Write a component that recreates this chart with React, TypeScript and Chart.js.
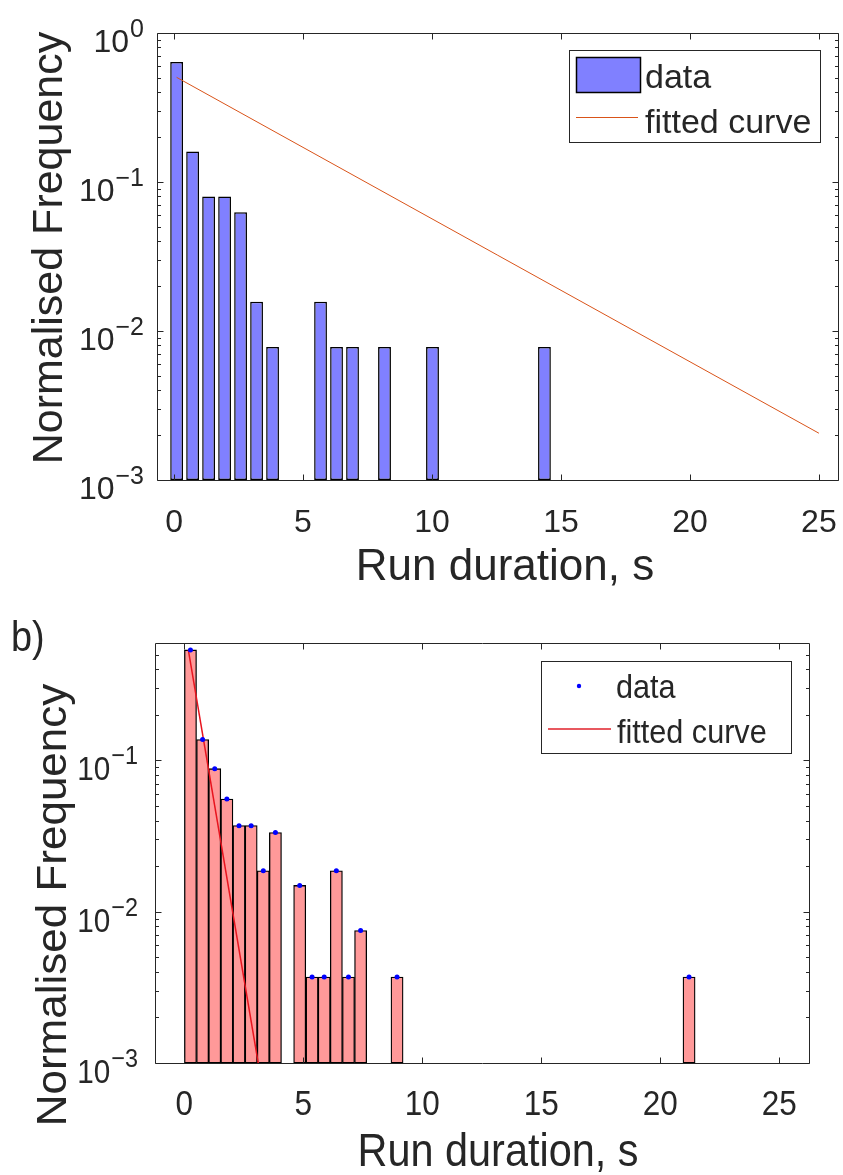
import React, { useEffect, useRef } from "react";
import { Chart, registerables } from "chart.js";

Chart.register(...registerables);

// ---------------- data: panel a (top) ----------------
const aBinCenters = [0.1, 0.72, 1.34, 1.96, 2.58, 3.2, 3.82, 5.68, 6.3, 6.92, 8.16, 10.02, 14.36];
const aFrequencies = [0.638, 0.16, 0.08, 0.08, 0.0626, 0.0157, 0.0078, 0.0157, 0.0078, 0.0078, 0.0078, 0.0078, 0.0078];
const aFitX = [0.1, 25];
const aFitY = [0.504, 0.00206];

// ---------------- data: panel b (bottom) ----------------
const bBinCenters = [0.26, 0.77, 1.28, 1.79, 2.3, 2.81, 3.32, 3.83, 4.85, 5.37, 5.88, 6.39, 6.9, 7.41, 8.94, 21.21];
const bFrequencies = [0.536, 0.137, 0.088, 0.0555, 0.037, 0.037, 0.0186, 0.0333, 0.0149, 0.0037, 0.0037, 0.0186, 0.0037, 0.0075, 0.0037, 0.0037];
const bFitX = [0.17, 3.2];
const bFitY = [0.536, 0.00082];

// ---------------- axis ticks & texts ----------------
const xTickValues = [0, 5, 10, 15, 20, 25];
const xTickLabels = ["0", "5", "10", "15", "20", "25"];
const yTickValues = [1, 0.1, 0.01, 0.001];
const yTickBase = "10";
const yTickExponents = ["0", "\u22121", "\u22122", "\u22123"];
const xAxisTitle = "Run duration, s";
const yAxisTitle = "Normalised Frequency";
const legendLabels = ["data", "fitted curve"];
const panelLabelB = "b)";

const FONT = '"Liberation Sans", Arial, Helvetica, sans-serif';
const AXIS = "#262626";

function drawText(ctx: CanvasRenderingContext2D, text: string, x: number, y: number, size: number, align: CanvasTextAlign, sx = 1) {
  ctx.save();
  ctx.translate(x, y);
  ctx.scale(sx, 1);
  ctx.font = `${size}px ${FONT}`;
  ctx.textAlign = align;
  ctx.textBaseline = "alphabetic";
  ctx.fillStyle = AXIS;
  ctx.fillText(text, 0, 0);
  ctx.restore();
}

function makeAxesPlugin(cfg: any) {
  return {
    id: "matlabAxes",
    afterDraw(chart: any) {
      const { ctx, chartArea: a, scales } = chart;
      const xs = scales.x;
      const ys = scales.y;
      ctx.save();
      ctx.strokeStyle = AXIS;
      ctx.lineWidth = 1;
      const L = Math.round(a.left) + 0.5;
      const R = Math.round(a.right) + 0.5;
      const T = Math.round(a.top) + 0.5;
      const B = Math.round(a.bottom) + 0.5;
      ctx.beginPath();
      ctx.rect(L, T, R - L, B - T);
      for (const v of xTickValues) {
        const px = Math.round(xs.getPixelForValue(v)) + 0.5;
        ctx.moveTo(px, B); ctx.lineTo(px, B - 6);
        ctx.moveTo(px, T); ctx.lineTo(px, T + 6);
      }
      for (let d = -3; d <= 0; d++) {
        for (let m = 1; m <= 9; m++) {
          const v = m * Math.pow(10, d);
          if (v < ys.min * 0.999 || v > ys.max * 1.001) continue;
          const py = Math.round(ys.getPixelForValue(v)) + 0.5;
          const len = m === 1 ? 6 : 3.5;
          ctx.moveTo(L, py); ctx.lineTo(L + len, py);
          ctx.moveTo(R, py); ctx.lineTo(R - len, py);
        }
      }
      ctx.stroke();

      // x tick labels
      xTickValues.forEach((v, i) => {
        drawText(ctx, xTickLabels[i], xs.getPixelForValue(v), a.bottom + cfg.xLabelDy, cfg.xTickSize, "center", cfg.sx);
      });
      // y tick labels
      yTickValues.forEach((v, i) => {
        if (v < ys.min * 0.999 || v > ys.max * 1.001) return;
        const py = ys.getPixelForValue(v);
        ctx.font = `${cfg.expSize}px ${FONT}`;
        const expW = ctx.measureText(yTickExponents[i]).width * cfg.sx;
        drawText(ctx, yTickExponents[i], cfg.yLabelRight - expW, py + cfg.expDy, cfg.expSize, "left", cfg.sx);
        drawText(ctx, yTickBase, cfg.yLabelRight - expW - 1, py + cfg.baseDy, cfg.baseSize, "right", cfg.sx);
      });
      // axis titles
      drawText(ctx, xAxisTitle, cfg.xTitleX, cfg.xTitleY, cfg.titleSize, "center", cfg.sx);
      ctx.save();
      ctx.translate(cfg.yTitleX, cfg.yTitleY);
      ctx.rotate(-Math.PI / 2);
      ctx.scale(1, cfg.yTitleSy);
      ctx.font = `${cfg.yTitleSize}px ${FONT}`;
      ctx.textAlign = "center";
      ctx.textBaseline = "alphabetic";
      ctx.fillStyle = AXIS;
      ctx.fillText(yAxisTitle, 0, 0);
      ctx.restore();

      if (cfg.panelLabel) {
        drawText(ctx, cfg.panelLabel.text, cfg.panelLabel.x, cfg.panelLabel.y, cfg.panelLabel.size, "left", cfg.sx);
      }

      // legend
      const lg = cfg.legend;
      ctx.fillStyle = "#ffffff";
      ctx.fillRect(lg.x, lg.y, lg.w, lg.h);
      ctx.strokeStyle = AXIS;
      ctx.lineWidth = 1;
      ctx.strokeRect(lg.x + 0.5, lg.y + 0.5, lg.w, lg.h);
      lg.items.forEach((it: any, i: number) => {
        if (it.kind === "patch") {
          ctx.fillStyle = it.color;
          ctx.fillRect(it.x0, it.y0, it.x1 - it.x0, it.y1 - it.y0);
          ctx.strokeStyle = "#000";
          ctx.lineWidth = 1.5;
          ctx.strokeRect(it.x0 + 0.5, it.y0 + 0.5, it.x1 - it.x0, it.y1 - it.y0);
          ctx.lineWidth = 1;
        } else if (it.kind === "line") {
          ctx.strokeStyle = it.color;
          ctx.lineWidth = it.width;
          ctx.beginPath();
          ctx.moveTo(it.x0, it.y); ctx.lineTo(it.x1, it.y);
          ctx.stroke();
          ctx.lineWidth = 1;
        } else if (it.kind === "dot") {
          ctx.fillStyle = it.color;
          ctx.beginPath();
          ctx.arc(it.cx, it.cy, it.r, 0, Math.PI * 2);
          ctx.fill();
        }
        drawText(ctx, legendLabels[i], it.textX, it.baseline, lg.size, "left", cfg.sx);
      });
      ctx.restore();
    },
  };
}

function pts(xs: number[], ys: number[]) {
  return xs.map((x, i) => ({ x, y: ys[i] }));
}

function ChartCanvas({ build, width, height, top }: any) {
  const ref = useRef<HTMLCanvasElement | null>(null);
  useEffect(() => {
    const chart = build(ref.current);
    return () => chart.destroy();
  }, []);
  return (
    <canvas
      ref={ref}
      width={width}
      height={height}
      style={{ position: "absolute", left: 0, top, width, height, display: "block" }}
    />
  );
}

function buildTop(canvas: HTMLCanvasElement) {
  const cfg = {
    sx: 1,
    xTickSize: 32,
    xLabelDy: 52,
    yLabelRight: 144,
    baseSize: 32,
    expSize: 25,
    baseDy: 19,
    expDy: 4,
    titleSize: 44,
    xTitleX: 505,
    xTitleY: 580,
    yTitleX: 62,
    yTitleY: 248,
    yTitleSize: 43,
    yTitleSy: 1,
    legend: {
      x: 569, y: 50, w: 251, h: 92, size: 34,
      items: [
        { kind: "patch", color: "#8080FF", x0: 576, x1: 640, y0: 57, y1: 92, textX: 645, baseline: 88 },
        { kind: "line", color: "#D95319", width: 1, x0: 576, x1: 638, y: 117.5, textX: 645, baseline: 133 },
      ],
    },
  };
  return new Chart(canvas, {
    type: "bar",
    data: {
      datasets: [
        {
          type: "bar",
          label: legendLabels[0],
          data: pts(aBinCenters, aFrequencies),
          backgroundColor: "#8080FF",
          borderColor: "#000000",
          borderWidth: 1.5,
          borderSkipped: false,
          barPercentage: 0.8,
          categoryPercentage: 1,
          order: 2,
        } as any,
        {
          type: "line",
          label: legendLabels[1],
          data: pts(aFitX, aFitY),
          borderColor: "#D95319",
          borderWidth: 1,
          pointRadius: 0,
          fill: false,
          tension: 0,
          clip: 0,
          order: 0,
        } as any,
      ],
    },
    options: {
      responsive: false,
      animation: false,
      events: [],
      layout: { autoPadding: false, padding: { left: 157, right: 5, top: 33, bottom: 110 } } as any,
      scales: {
        x: { type: "linear", min: -0.66, max: 25.74, offset: false, display: false },
        y: { type: "logarithmic", min: 0.001, max: 1, display: false },
      },
      plugins: { legend: { display: false }, tooltip: { enabled: false } },
    },
    plugins: [makeAxesPlugin(cfg)],
  } as any);
}

function buildBottom(canvas: HTMLCanvasElement) {
  const cfg = {
    sx: 0.9,
    xTickSize: 35,
    xLabelDy: 52,
    yLabelRight: 138,
    baseSize: 33,
    expSize: 26,
    baseDy: 20,
    expDy: 4,
    titleSize: 46,
    xTitleX: 498,
    xTitleY: 576,
    yTitleX: 66,
    yTitleY: 315,
    yTitleSize: 44,
    yTitleSy: 0.95,
    panelLabel: { text: panelLabelB, x: 11, y: 61, size: 42 },
    legend: {
      x: 541, y: 71, w: 250, h: 92, size: 34,
      items: [
        { kind: "dot", color: "#0000FF", cx: 579, cy: 96, r: 2.2, textX: 616, baseline: 108 },
        { kind: "line", color: "#E0202A", width: 1.5, x0: 548, x1: 611, y: 139, textX: 617, baseline: 153 },
      ],
    },
  };
  return new Chart(canvas, {
    type: "bar",
    data: {
      datasets: [
        {
          type: "bar",
          label: "histogram",
          data: pts(bBinCenters, bFrequencies),
          backgroundColor: "#FF9999",
          borderColor: "#000000",
          borderWidth: 1.3,
          borderSkipped: false,
          barPercentage: 1,
          categoryPercentage: 1,
          order: 3,
        } as any,
        {
          type: "line",
          label: legendLabels[1],
          data: pts(bFitX, bFitY),
          borderColor: "#E8141E",
          borderWidth: 1.5,
          pointRadius: 0,
          fill: false,
          tension: 0,
          clip: 0,
          order: 1,
        } as any,
        {
          type: "line",
          label: legendLabels[0],
          data: pts(bBinCenters, bFrequencies),
          showLine: false,
          pointRadius: 2.5,
          pointBackgroundColor: "#0000FF",
          pointBorderWidth: 0,
          borderColor: "#0000FF",
          order: 0,
        } as any,
      ],
    },
    options: {
      responsive: false,
      animation: false,
      events: [],
      layout: { autoPadding: false, padding: { left: 155, right: 34, top: 53.3, bottom: 112 } } as any,
      scales: {
        x: { type: "linear", min: -1.23, max: 26.25, offset: false, display: false },
        y: { type: "logarithmic", min: 0.001, max: 0.593, display: false },
      },
      plugins: { legend: { display: false }, tooltip: { enabled: false } },
    },
    plugins: [makeAxesPlugin(cfg)],
  } as any);
}

export default function App() {
  return (
    <div style={{ position: "absolute", left: 0, top: 0, width: 843, height: 1175, background: "#ffffff", overflow: "hidden" }}>
      <ChartCanvas build={buildTop} width={843} height={590} top={0} />
      <ChartCanvas build={buildBottom} width={843} height={585} top={590} />
    </div>
  );
}
